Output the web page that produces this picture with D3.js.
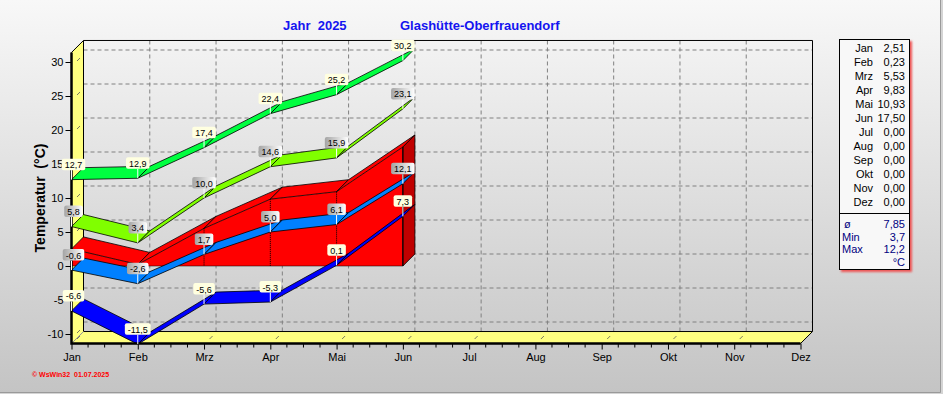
<!DOCTYPE html>
<html lang="de">
<head>
<meta charset="utf-8">
<title>Jahr 2025 Glashütte-Oberfrauendorf</title>
<script src="https://cdn.jsdelivr.net/npm/d3@7"></script>
<style>
  body { margin: 0; background: #d4d4d4; }
  svg { display: block; font-family: "Liberation Sans", Arial, sans-serif; }
</style>
</head>
<body>
<div id="chart"></div>
<script>
// data
var months = ["Jan","Feb","Mrz","Apr","Mai","Jun","Jul","Aug","Sep","Okt","Nov","Dez"];
var absMax = [12.7, 12.9, 17.4, 22.4, 25.2, 30.2];
var avgMax = [5.8, 3.4, 10.0, 14.6, 15.9, 23.1];
var meanTemp = [2.51, 0.23, 5.53, 9.83, 10.93, 17.50, 0, 0, 0, 0, 0, 0];
var avgMin = [-0.6, -2.6, 1.7, 5.0, 6.1, 12.1];
var absMin = [-6.6, -11.5, -5.6, -5.3, 0.1, 7.3];
var yTicks = [-10, -5, 0, 5, 10, 15, 20, 25, 30];
var summaryLabels = ["ø", "Min", "Max"];
var summaryValues = ["7,85", "3,7", "12,2"];

var W = 943, H = 394;
var DX = 12, DY = 12;           // depth offset of the back plane
var nData = absMax.length;

var svg = d3.select("#chart").append("svg")
    .attr("width", W).attr("height", H);

var defs = svg.append("defs");
var bg = defs.append("linearGradient").attr("id", "bg").attr("x1", 0).attr("y1", 0).attr("x2", 0).attr("y2", 1);
bg.append("stop").attr("offset", "0%").attr("stop-color", "#f8f8f8");
bg.append("stop").attr("offset", "100%").attr("stop-color", "#c4c4c4");
var lg = defs.append("linearGradient").attr("id", "lblGray").attr("x1", 0).attr("y1", 0).attr("x2", 1).attr("y2", 0);
lg.append("stop").attr("offset", "0%").attr("stop-color", "#a4a4a4");
lg.append("stop").attr("offset", "100%").attr("stop-color", "#ffffff");
defs.append("filter").attr("id", "blur").append("feGaussianBlur").attr("stdDeviation", 1.3);

// background + frame
svg.append("rect").attr("width", 941).attr("height", 393).attr("fill", "url(#bg)");
svg.append("path").attr("d", "M940.5,0V392.5H0").attr("fill", "none").attr("stroke", "#9a9a9a");

// scales
var x = d3.scalePoint().domain(months).range([71.5, 800.5]);
var y = d3.scaleLinear().domain([-10, 30]).range([334, 62]);
var x0 = x(months[0]), x1 = x(months[11]);
var yTop = y(31.4), yBot = y(-11.4);

function front(m, v) { return [x(m), y(v)]; }
function back(m, v) { return [x(m) + DX, y(v) - DY]; }
function poly(pts) { return "M" + pts.map(function(p) { return p[0] + "," + p[1]; }).join("L") + "Z"; }

// back plane grid
var grid = svg.append("g").attr("stroke", "#808080").attr("stroke-dasharray", "4,3");
yTicks.forEach(function(v) {
  grid.append("line").attr("x1", x0 + DX).attr("x2", x1 + DX)
    .attr("y1", y(v) - DY).attr("y2", y(v) - DY);
});
months.slice(1, 11).forEach(function(m) {
  grid.append("line").attr("x1", x(m) + DX).attr("x2", x(m) + DX)
    .attr("y1", yTop - DY).attr("y2", yBot - DY);
});
svg.append("path")
  .attr("d", "M" + (x0 + DX) + "," + (yTop - DY) + "H" + (x1 + DX) + "V" + (yBot - DY))
  .attr("fill", "none").attr("stroke", "#000");

// left wall and floor
svg.append("path")
  .attr("d", poly([[x0, yTop], [x0 + DX, yTop - DY], [x0 + DX, yBot - DY], [x0, yBot]]))
  .attr("fill", "#ffff80").attr("stroke", "#000").attr("stroke-width", 1);
svg.append("path")
  .attr("d", poly([[x0, yBot], [x0 + DX, yBot - DY], [x1 + DX, yBot - DY], [x1, yBot]]))
  .attr("fill", "#ffff80").attr("stroke", "#000").attr("stroke-width", 1);
svg.append("line").attr("x1", x0).attr("y1", yBot).attr("x2", x0 + DX).attr("y2", yBot - DY)
  .attr("stroke", "#9a9a9a");

// little depth marks on wall and floor
var marks = svg.append("g").attr("stroke", "#555").attr("stroke-width", 0.8);
yTicks.forEach(function(v) {
  marks.append("line").attr("x1", x0 + 5.5).attr("y1", y(v) - 1).attr("x2", x0 + 8.5).attr("y2", y(v) - 4);
});
months.slice(0, 11).forEach(function(m) {
  marks.append("line").attr("x1", x(m) + 5.5).attr("y1", yBot - 4.5).attr("x2", x(m) + 8.5).attr("y2", yBot - 7.5);
});

// mean temperature as a 3D area block
var meanData = meanTemp.slice(0, nData);
var red = svg.append("g");
var fr = meanData.map(function(v, i) { return front(months[i], v); });
var bk = meanData.map(function(v, i) { return back(months[i], v); });
var last = nData - 1;
red.append("path")
  .attr("d", poly(fr.concat([[x(months[last]), y(0)], [x0, y(0)]])))
  .attr("fill", "#ff0000");
for (var i = 0; i < last; i++) {
  red.append("path").attr("d", poly([fr[i], fr[i + 1], bk[i + 1], bk[i]]))
    .attr("fill", "#ff0000").attr("stroke", "#000").attr("stroke-width", 0.8);
}
red.append("path")
  .attr("d", poly([fr[last], bk[last], [bk[last][0], y(0) - DY], [fr[last][0], y(0)]]))
  .attr("fill", "#c00000").attr("stroke", "#000").attr("stroke-width", 0.8);
meanData.forEach(function(v, i) {
  if (i === 0) return;
  red.append("line").attr("x1", fr[i][0]).attr("x2", fr[i][0]).attr("y1", fr[i][1]).attr("y2", y(0))
    .attr("stroke", "#000").attr("stroke-dasharray", i === last ? null : "1,1");
});
red.append("line").attr("x1", x0).attr("x2", fr[last][0]).attr("y1", y(0)).attr("y2", y(0))
  .attr("stroke", "#000").attr("stroke-dasharray", "1,1");

// ribbons
function ribbon(values, color) {
  var g = svg.append("g");
  for (var i = 0; i < values.length - 1; i++) {
    g.append("path")
      .attr("d", poly([front(months[i], values[i]), front(months[i + 1], values[i + 1]),
                       back(months[i + 1], values[i + 1]), back(months[i], values[i])]))
      .attr("fill", color).attr("stroke", "#000").attr("stroke-width", 0.8)
      .attr("stroke-linejoin", "round");
  }
}
ribbon(absMin, "#0000ff");
ribbon(avgMin, "#0080ff");
ribbon(avgMax, "#80ff00");
ribbon(absMax, "#00ff40");

// axes
var yAxis = d3.axisLeft(y).tickValues(yTicks).tickSize(6).tickPadding(2)
  .tickFormat(function(d) { return String(d); });
svg.append("g").attr("transform", "translate(" + x0 + ",0)").call(yAxis)
  .call(function(g) { g.select(".domain").remove(); })
  .selectAll("text").attr("font-size", "11px").attr("fill", "#000").attr("font-family", null);

var xAxis = d3.axisBottom(x).tickSize(6).tickPadding(4);
svg.append("g").attr("transform", "translate(0," + yBot + ")").call(xAxis)
  .call(function(g) { g.select(".domain").remove(); })
  .selectAll("text").attr("font-size", "11px").attr("fill", "#000").attr("font-family", null);

var step = x.step();
var minor = svg.append("g").attr("stroke", "#000");
months.slice(0, 11).forEach(function(m) {
  for (var k = 1; k < 4; k++) {
    minor.append("line").attr("x1", x(m) + k * step / 4).attr("x2", x(m) + k * step / 4)
      .attr("y1", yBot).attr("y2", yBot + 4);
  }
});

svg.append("path").attr("d", "M" + x0 + "," + yTop + "V" + yBot + "H" + x1)
  .attr("fill", "none").attr("stroke", "#000").attr("stroke-width", 2.5);

// value labels (on top of everything in the plot)
function fmt1(v) { return d3.format(".1f")(v).replace(".", ",").replace("−", "-"); }
function labels(values, fill) {
  var g = svg.append("g");
  values.forEach(function(v, i) {
    var px = x(months[i]), py = y(v);
    var cx = i === 0 ? px + 2 : px;
    var lab = g.append("g");
    var t = lab.append("text").attr("x", cx).attr("y", py - 11.5)
      .attr("text-anchor", "middle").attr("font-size", "9px").attr("fill", "#000")
      .text(fmt1(v));
    var w = t.node().getComputedTextLength() + 6;
    lab.insert("rect", "text").attr("x", cx - w / 2).attr("y", py - 21)
      .attr("width", w).attr("height", 11.5).attr("rx", 2)
      .attr("fill", fill);
    lab.insert("line", "rect").attr("x1", px).attr("x2", px).attr("y1", py - 9.5).attr("y2", py)
      .attr("stroke", "#fff");
  });
}
labels(absMax, "#ffffe0");
labels(avgMax, "url(#lblGray)");
labels(avgMin, "url(#lblGray)");
labels(absMin, "#ffffe0");

// titles
svg.append("text").attr("x", 283).attr("y", 30).attr("font-size", "13px").attr("font-weight", "bold")
  .attr("fill", "#1414f0").style("white-space", "pre").text("Jahr  2025");
svg.append("text").attr("x", 400).attr("y", 30).attr("font-size", "13px").attr("font-weight", "bold")
  .attr("fill", "#1414f0").text("Glashütte-Oberfrauendorf");
svg.append("text").attr("transform", "translate(44.5,198) rotate(-90)")
  .attr("text-anchor", "middle").attr("font-size", "14px").attr("font-weight", "bold")
  .style("white-space", "pre").text("Temperatur  (°C)");

svg.append("text").attr("x", 32).attr("y", 377).attr("font-size", "7px").attr("font-weight", "bold")
  .attr("fill", "#ff0000").style("white-space", "pre").text("© WsWin32  01.07.2025");

// legend box
var lx = 839, ly = 39, lw = 70, lh = 230;
svg.append("rect").attr("x", lx + 2).attr("y", ly + 2).attr("width", lw + 1).attr("height", lh + 1)
  .attr("fill", "#ee5555").attr("filter", "url(#blur)");
svg.append("rect").attr("x", lx + 0.5).attr("y", ly + 0.5).attr("width", lw).attr("height", lh)
  .attr("fill", "#f8f8f8").attr("stroke", "#000");
svg.append("line").attr("x1", lx).attr("x2", lx + lw + 1).attr("y1", 213.5).attr("y2", 213.5).attr("stroke", "#000");
var leg = svg.append("g").attr("font-size", "11px").attr("text-anchor", "end");
months.forEach(function(m, i) {
  leg.append("text").attr("x", 873).attr("y", 52 + i * 14).text(m);
  leg.append("text").attr("x", 905).attr("y", 52 + i * 14)
    .text(d3.format(".2f")(meanTemp[i]).replace(".", ","));
});
var sum = svg.append("g").attr("font-size", "11px").attr("fill", "#000080");
summaryLabels.forEach(function(s, i) {
  sum.append("text").attr("x", i === 0 ? 844 : 842).attr("y", 228 + i * 12.7).text(s);
  sum.append("text").attr("x", 905).attr("y", 228 + i * 12.7).attr("text-anchor", "end").text(summaryValues[i]);
});
sum.append("text").attr("x", 905).attr("y", 266).attr("text-anchor", "end").text("°C");
</script>
</body>
</html>
